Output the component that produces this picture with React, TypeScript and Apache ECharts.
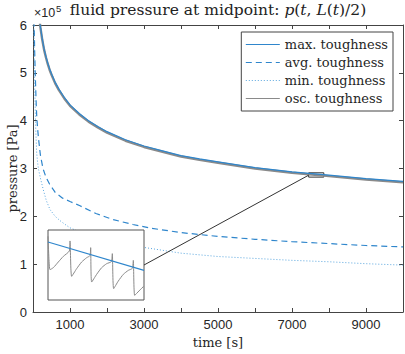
import { useEffect, useRef } from 'react';
import * as echarts from 'echarts';

// ---- data (pressure in units of 1e5 Pa, time in s) ----
const timeMax = [150, 200, 250, 300, 350, 400, 450, 500, 600, 700, 850, 1000, 1250, 1500, 1750, 2000, 2500, 3000, 3500, 4000, 4500, 5000, 6000, 7000, 8000, 9000, 10000];
const pressMax = [6.33, 5.97, 5.71, 5.5, 5.34, 5.2, 5.08, 4.98, 4.8, 4.66, 4.48, 4.33, 4.15, 4.0, 3.88, 3.77, 3.6, 3.47, 3.37, 3.27, 3.2, 3.14, 3.02, 2.93, 2.86, 2.79, 2.73];
const pressOsc = [6.31, 5.95, 5.69, 5.48, 5.32, 5.18, 5.06, 4.96, 4.78, 4.64, 4.46, 4.31, 4.13, 3.98, 3.86, 3.75, 3.58, 3.45, 3.35, 3.25, 3.18, 3.12, 3.0, 2.91, 2.84, 2.77, 2.71];

const timeAvg = [30, 45, 60, 80, 100, 125, 150, 200, 270, 350, 450, 600, 800, 1000, 1270, 1700, 2170, 2700, 3200, 4000, 5000, 6000, 7000, 8000, 9000, 10000];
const pressAvg = [6.1, 5.45, 5.0, 4.5, 4.1, 3.83, 3.62, 3.28, 3.0, 2.82, 2.67, 2.5, 2.38, 2.31, 2.22, 2.06, 1.93, 1.83, 1.75, 1.66, 1.58, 1.52, 1.47, 1.43, 1.39, 1.36];

const timeMin = [20, 35, 50, 75, 100, 125, 150, 200, 280, 360, 460, 600, 730, 850, 1000, 1500, 2000, 2500, 3000, 4000, 5000, 6000, 7000, 8000, 9000, 10000];
const pressMin = [6.3, 5.3, 4.6, 3.8, 3.32, 3.12, 2.98, 2.8, 2.55, 2.33, 2.14, 2.0, 1.91, 1.84, 1.76, 1.6, 1.49, 1.41, 1.35, 1.23, 1.16, 1.12, 1.08, 1.05, 1.01, 0.98];

// zoomed window shown in the inset
const zoomTime = [7450, 7860];
const zoomPress = [2.82, 2.91];
const timeMaxZoom = [7450, 7860];
const pressMaxZoom = [2.8946, 2.858];
const timeOscZoom = [7450, 7454, 7458.5, 7472.8, 7494.1, 7515.5, 7541.1, 7544, 7551, 7572.4, 7593.8, 7615.1, 7629.3, 7632.2, 7636.5, 7657.8, 7679.2, 7700.5, 7720.4, 7724.7, 7730.4, 7750.3, 7771.7, 7793, 7810.1, 7814.4, 7820.1, 7838.6, 7858.5];
const pressOscZoom = [2.9019, 2.8731, 2.859, 2.8616, 2.8689, 2.8761, 2.883, 2.8959, 2.8504, 2.8603, 2.8689, 2.8744, 2.877, 2.8873, 2.8431, 2.853, 2.8616, 2.8667, 2.8693, 2.8796, 2.8346, 2.8444, 2.853, 2.8581, 2.8607, 2.871, 2.826, 2.8316, 2.8376];

const yTicks = [0, 1, 2, 3, 4, 5, 6];
const xLabelled = [1000, 3000, 5000, 7000, 9000];
const names = ['max. toughness', 'avg. toughness', 'min. toughness', 'osc. toughness'];

const zip = (a: number[], b: number[]) => a.map((v, i) => [v, b[i]]);

const BLUE = '#2f86cc';
const BLUE_DOT = '#5aa6de';
const GRAY = '#8a8a8a';
const AX = '#444';
const SERIF = 'DejaVu Serif';
const SANS = 'Liberation Sans';

const axisLine = { show: true, onZero: false, lineStyle: { color: AX, width: 1 } };
const axisTick = { show: true, inside: true, length: 4, lineStyle: { color: AX, width: 1 } };

export default function App() {
  const ref = useRef<HTMLDivElement>(null);
  useEffect(() => {
    const chart = echarts.init(ref.current!, null, { renderer: 'svg' });
    const option: any = {
      animation: false,
      textStyle: { fontFamily: SANS },
      grid: [
        { left: 33, top: 25, width: 370, height: 287, show: false, containLabel: false, outerBoundsMode: 'none' },
        { left: 48, top: 230, width: 96, height: 70, show: true, backgroundColor: '#fff', borderColor: '#555', borderWidth: 1, z: 5, containLabel: false, outerBoundsMode: 'none' },
      ],
      xAxis: [
        {
          type: 'value', gridIndex: 0, position: 'bottom', min: 0, max: 10000, interval: 1000,
          axisLine, axisTick, splitLine: { show: false },
          axisLabel: {
            margin: 6, fontFamily: SANS, fontSize: 13, color: '#262626',
            formatter: (v: number) => (xLabelled.includes(v) ? String(v) : ''),
          },
          name: 'time [s]', nameLocation: 'middle', nameGap: 23,
          nameTextStyle: { fontFamily: SERIF, fontSize: 13, color: '#262626' },
        },
        {
          type: 'value', gridIndex: 0, position: 'top', min: 0, max: 10000, interval: 1000,
          axisLine, axisTick, splitLine: { show: false }, axisLabel: { show: false },
        },
        { type: 'value', gridIndex: 1, min: zoomTime[0], max: zoomTime[1], show: false, splitLine: { show: false } },
      ],
      yAxis: [
        {
          type: 'value', gridIndex: 0, position: 'left', min: yTicks[0], max: yTicks[yTicks.length - 1], interval: 1,
          axisLine, axisTick, splitLine: { show: false },
          axisLabel: { margin: 6, fontFamily: SANS, fontSize: 13, color: '#262626' },
          name: 'pressure [Pa]', nameLocation: 'middle', nameGap: 14, nameMoveOverlap: false,
          nameTextStyle: { fontFamily: SERIF, fontSize: 13, color: '#262626' },
        },
        {
          type: 'value', gridIndex: 0, position: 'right', min: 0, max: 6, interval: 1,
          axisLine, axisTick, splitLine: { show: false }, axisLabel: { show: false },
        },
        { type: 'value', gridIndex: 1, min: zoomPress[0], max: zoomPress[1], show: false, splitLine: { show: false } },
      ],
      legend: {
        data: names,
        orient: 'vertical', right: 12, top: 32,
        padding: [6, 5, 6, 4], itemGap: 5, itemWidth: 34, itemHeight: 14,
        borderColor: AX, borderWidth: 1, borderRadius: 0, backgroundColor: '#fff',
        itemStyle: { opacity: 0 },
        lineStyle: { width: 1 },
        textStyle: { fontFamily: SERIF, fontSize: 13, color: '#262626', width: 106 },
      },
      series: [
        {
          name: names[3], type: 'line', xAxisIndex: 0, yAxisIndex: 0, data: zip(timeMax, pressOsc),
          symbol: 'none', z: 2, silent: true,
          lineStyle: { color: GRAY, width: 2.4 }, itemStyle: { color: GRAY, opacity: 0 },
        },
        {
          name: names[0], type: 'line', xAxisIndex: 0, yAxisIndex: 0, data: zip(timeMax, pressMax),
          symbol: 'none', z: 3, silent: true,
          lineStyle: { color: BLUE, width: 1.2 }, itemStyle: { color: BLUE, opacity: 0 },
          markArea: {
            silent: true,
            itemStyle: { color: 'rgba(0,0,0,0)', borderColor: '#333', borderWidth: 1, opacity: 1 },
            data: [[{ coord: [zoomTime[0], zoomPress[0]] }, { coord: [zoomTime[1], zoomPress[1]] }]],
          },
        },
        {
          name: names[1], type: 'line', xAxisIndex: 0, yAxisIndex: 0, data: zip(timeAvg, pressAvg),
          symbol: 'none', z: 3, silent: true,
          lineStyle: { color: BLUE, width: 1.2, type: [6, 4] }, itemStyle: { color: BLUE, opacity: 0 },
        },
        {
          name: names[2], type: 'line', xAxisIndex: 0, yAxisIndex: 0, data: zip(timeMin, pressMin),
          symbol: 'none', z: 3, silent: true,
          lineStyle: { color: BLUE_DOT, width: 1, type: [1, 2] }, itemStyle: { color: BLUE_DOT, opacity: 0 },
        },
        {
          name: names[3], type: 'line', xAxisIndex: 2, yAxisIndex: 2, data: zip(timeOscZoom, pressOscZoom),
          symbol: 'none', smooth: 0.2, z: 6, silent: true,
          lineStyle: { color: GRAY, width: 1 }, itemStyle: { color: GRAY, opacity: 0 },
        },
        {
          name: names[0], type: 'line', xAxisIndex: 2, yAxisIndex: 2, data: zip(timeMaxZoom, pressMaxZoom),
          symbol: 'none', z: 7, silent: true,
          lineStyle: { color: BLUE, width: 1.2 }, itemStyle: { color: BLUE, opacity: 0 },
        },
      ],
    };
    chart.setOption(option);

    const from = chart.convertToPixel({ xAxisIndex: 2, yAxisIndex: 2 } as any, [zoomTime[1], 2.865]) as number[];
    const to = chart.convertToPixel({ xAxisIndex: 0, yAxisIndex: 0 } as any, [zoomTime[0], 2.86]) as number[];

    chart.setOption({
      graphic: [
        {
          id: 'title', type: 'text', x: 218, y: 10, z: 20,
          style: {
            text: '{n|fluid pressure at midpoint: }{i|p}{n|(}{i|t}{n|, }{i|L}{n|(}{i|t}{n|)/2)}',
            align: 'center', verticalAlign: 'middle', fill: '#222',
            rich: {
              n: { fontFamily: SERIF, fontSize: 15.5, fill: '#222' },
              i: { fontFamily: SERIF, fontSize: 15.5, fontStyle: 'italic', fill: '#222' },
            },
          },
        },
        {
          id: 'exp', type: 'text', x: 34, y: 13, z: 20,
          style: { text: '×10', fontFamily: SANS, fontSize: 12.5, lineHeight: 12, fill: '#262626', align: 'left', verticalAlign: 'middle' },
        },
        {
          id: 'exp5', type: 'text', x: 56, y: 8, z: 20,
          style: { text: '5', fontFamily: SANS, fontSize: 9.5, lineHeight: 9, fill: '#262626', align: 'left', verticalAlign: 'middle' },
        },
        {
          id: 'link', type: 'line', z: 20, silent: true,
          shape: { x1: from[0], y1: from[1], x2: to[0], y2: to[1] },
          style: { stroke: '#333', lineWidth: 1 },
        },
      ],
    });
    return () => chart.dispose();
  }, []);
  return <div ref={ref} style={{ position: 'absolute', left: 0, top: 0, width: 405, height: 354 }} />;
}
